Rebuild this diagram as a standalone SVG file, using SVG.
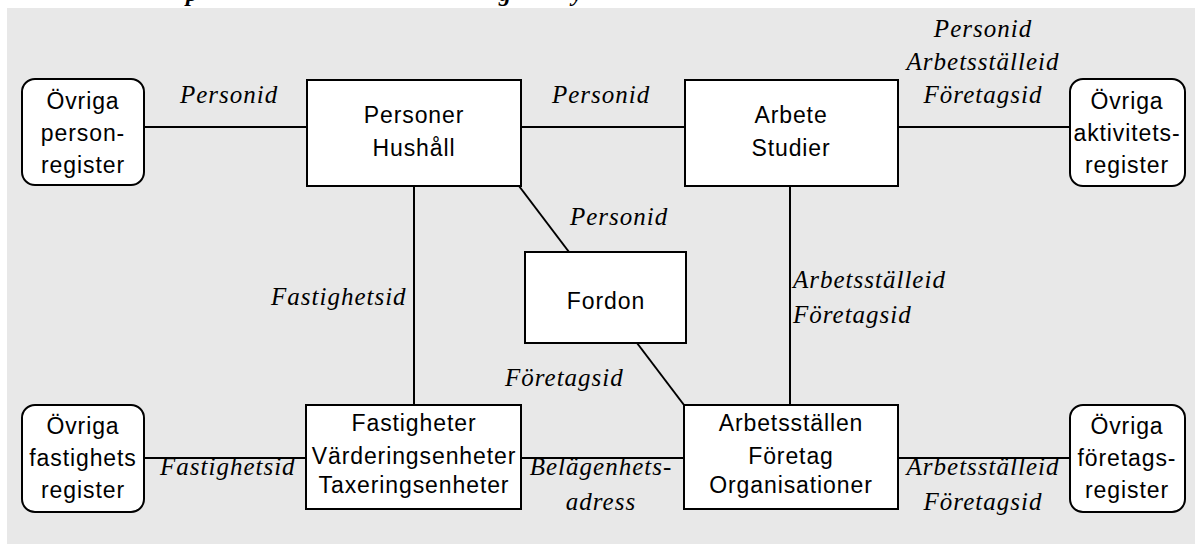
<svg xmlns="http://www.w3.org/2000/svg" width="1195" height="544" viewBox="0 0 1195 544">
  <style>
    .bg { fill: #e8e8e8; }
    .box { fill: #ffffff; stroke: #000000; stroke-width: 2; }
    .conn line { stroke: #000000; stroke-width: 2; }
    .nt { font-family: "Liberation Sans", Arial, sans-serif; font-size: 23px; letter-spacing: 0.9px; fill: #000; text-anchor: middle; }
    .lb { font-family: "Liberation Serif", "Times New Roman", serif; font-style: italic; font-size: 25px; letter-spacing: 1px; fill: #000; }
    .lbm { text-anchor: middle; }
    .ttl { font-family: "Liberation Serif", "Times New Roman", serif; font-style: italic; font-weight: bold; font-size: 24px; fill: #000; }
  </style>

  <rect x="0" y="0" width="1195" height="544" fill="#ffffff"/>
  <rect class="bg" x="7" y="8" width="1188" height="536"/>

  <!-- heading, clipped at the top edge -->
  <text class="ttl" x="186" y="1">p</text>
  <text class="ttl" x="499" y="1">g</text>
  <text class="ttl" x="572" y="1">y</text>

  <!-- connectors -->
  <g id="connectors" class="conn">
    <line x1="144" y1="127" x2="307" y2="127"/>
    <line x1="521" y1="127" x2="685" y2="127"/>
    <line x1="898" y1="127" x2="1070" y2="127"/>
    <line x1="414" y1="186" x2="414" y2="405"/>
    <line x1="790" y1="186" x2="790" y2="405"/>
    <line x1="519" y1="186" x2="569" y2="252"/>
    <line x1="637" y1="343" x2="684" y2="405"/>
    <line x1="144" y1="458" x2="306" y2="458"/>
    <line x1="521" y1="458" x2="684" y2="458"/>
    <line x1="898" y1="458" x2="1070" y2="458"/>
  </g>

  <!-- connector labels -->
  <g id="labels">
    <text class="lb" x="180" y="103">Personid</text>
    <text class="lb" x="552" y="103">Personid</text>
    <text class="lb lbm" x="983" y="37">Personid</text>
    <text class="lb lbm" x="983" y="70">Arbetsställeid</text>
    <text class="lb lbm" x="983" y="103">Företagsid</text>
    <text class="lb" x="570" y="225">Personid</text>
    <text class="lb" x="271" y="305">Fastighetsid</text>
    <text class="lb" x="793" y="288">Arbetsställeid</text>
    <text class="lb" x="793" y="323">Företagsid</text>
    <text class="lb" x="505" y="386">Företagsid</text>
    <text class="lb" x="160" y="475">Fastighetsid</text>
    <text class="lb lbm" x="601" y="475">Belägenhets-</text>
    <text class="lb lbm" x="601" y="510">adress</text>
    <text class="lb lbm" x="983" y="475">Arbetsställeid</text>
    <text class="lb lbm" x="983" y="510">Företagsid</text>
  </g>

  <!-- nodes -->
  <g id="ovriga-personregister">
    <rect class="box" x="22" y="79" width="122" height="106" rx="13"/>
    <text class="nt" x="83" y="109">Övriga</text>
    <text class="nt" x="83" y="141">person-</text>
    <text class="nt" x="83" y="173">register</text>
  </g>

  <g id="personer-hushall">
    <rect class="box" x="307" y="80" width="214" height="106"/>
    <text class="nt" x="414" y="123">Personer</text>
    <text class="nt" x="414" y="156">Hushåll</text>
  </g>

  <g id="arbete-studier">
    <rect class="box" x="685" y="80" width="213" height="106"/>
    <text class="nt" x="791" y="123">Arbete</text>
    <text class="nt" x="791" y="156">Studier</text>
  </g>

  <g id="ovriga-aktivitetsregister">
    <rect class="box" x="1070" y="79" width="115" height="107" rx="13"/>
    <text class="nt" x="1127" y="109">Övriga</text>
    <text class="nt" x="1127" y="141">aktivitets-</text>
    <text class="nt" x="1127" y="173">register</text>
  </g>

  <g id="fordon">
    <rect class="box" x="525" y="252" width="161" height="91"/>
    <text class="nt" x="606" y="309">Fordon</text>
  </g>

  <g id="ovriga-fastighetsregister">
    <rect class="box" x="22" y="405" width="122" height="107" rx="13"/>
    <text class="nt" x="83" y="434">Övriga</text>
    <text class="nt" x="83" y="466">fastighets</text>
    <text class="nt" x="83" y="498">register</text>
  </g>

  <g id="fastigheter">
    <rect class="box" x="306" y="405" width="215" height="104"/>
    <text class="nt" x="414" y="431">Fastigheter</text>
    <text class="nt" x="414" y="464">Värderingsenheter</text>
    <text class="nt" x="414" y="493">Taxeringsenheter</text>
  </g>

  <g id="arbetsstallen">
    <rect class="box" x="684" y="405" width="214" height="104"/>
    <text class="nt" x="791" y="431">Arbetsställen</text>
    <text class="nt" x="791" y="464">Företag</text>
    <text class="nt" x="791" y="493">Organisationer</text>
  </g>

  <g id="ovriga-foretagsregister">
    <rect class="box" x="1070" y="405" width="115" height="107" rx="13"/>
    <text class="nt" x="1127" y="434">Övriga</text>
    <text class="nt" x="1127" y="466">företags-</text>
    <text class="nt" x="1127" y="498">register</text>
  </g>
</svg>
